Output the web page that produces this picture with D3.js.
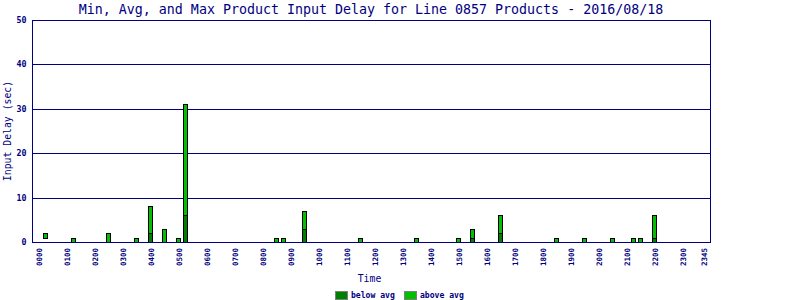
<!DOCTYPE html>
<html><head><meta charset="utf-8">
<script src="https://cdn.jsdelivr.net/npm/d3@7/dist/d3.min.js"></script>
<style>body{margin:0;background:#fff}svg{display:block}</style>
</head><body>
<svg id="c" width="800" height="300"></svg>
<script>
const title = "Min, Avg, and Max Product Input Delay for Line 0857 Products - 2016/08/18";
// 15-minute slots
const slots = [];
for (let h = 0; h < 24; h++) for (let m = 0; m < 60; m += 15)
  slots.push(String(h).padStart(2,"0") + String(m).padStart(2,"0"));
const tickLabels = ["0000","0100","0200","0300","0400","0500","0600","0700","0800","0900","1000","1100","1200","1300","1400","1500","1600","1700","1800","1900","2000","2100","2200","2300","2345"];
const yTicks = [0,10,20,30,40,50];
const barTimes = ["0015","0115","0230","0330","0400","0430","0500","0515","0830","0845","0930","1130","1330","1500","1530","1630","1830","1930","2030","2115","2130","2200"];
const minVals  = [1,0,0,0,0,0,0,0,0,0,0,0,0,0,0,0,0,0,0,0,0,0];
const avgVals  = [1,0,0,0,2,0,0,6,0,0,3,0,0,0,1,2,0,0,0,0,0,1];
const maxVals  = [2,1,2,1,8,3,1,31,1,1,7,1,1,1,3,6,1,1,1,1,1,6];
const seriesNames = ["below avg","above avg"];
const colors = ["#008000","#00c000"];

const navy = "#000080";
const mono = "'DejaVu Sans Mono', monospace";
const L = 32, R = 710, T = 20, B = 242;
const svg = d3.select("#c");
const x = d3.scalePoint().domain(slots).range([39, 704]);
const y = d3.scaleLinear().domain([0, 50]).range([B, T]);
const ry = v => Math.round(y(v));

svg.append("text").attr("x", (L+R)/2).attr("y", 14).attr("text-anchor","middle")
  .attr("font-family", mono).attr("font-size", 13.3).attr("fill", navy).text(title);

// gridlines
svg.append("g").selectAll("line").data(yTicks.filter(v => v > 0)).join("line")
  .attr("x1", L).attr("x2", R).attr("y1", d => ry(d)+0.5).attr("y2", d => ry(d)+0.5)
  .attr("stroke", navy).attr("stroke-width", 1);

// bars
const bars = barTimes.map((t,i) => ({t, min:minVals[i], avg:avgVals[i], max:maxVals[i]}));
const gb = svg.append("g");
bars.forEach(d => {
  const cx = Math.round(x(d.t));
  const x0 = cx - 2.5;
  if (d.avg > d.min) {
    gb.append("rect").attr("x", x0).attr("width", 4)
      .attr("y", ry(d.avg)+0.5).attr("height", ry(d.min) - ry(d.avg))
      .attr("fill", colors[0]).attr("stroke", "#000").attr("stroke-width", 1);
  }
  gb.append("rect").attr("x", x0).attr("width", 4)
    .attr("y", ry(d.max)+0.5).attr("height", ry(d.avg) - ry(d.max))
    .attr("fill", colors[1]).attr("stroke", "#000").attr("stroke-width", 1);
});

// frame
svg.append("line").attr("x1", L+0.5).attr("x2", L+0.5).attr("y1", T).attr("y2", B+1).attr("stroke", navy);
svg.append("line").attr("x1", R+0.5).attr("x2", R+0.5).attr("y1", T).attr("y2", B+1).attr("stroke", navy);
svg.append("line").attr("x1", L).attr("x2", R+1).attr("y1", B+0.5).attr("y2", B+0.5).attr("stroke", navy);
svg.append("line").attr("x1", L).attr("x2", R+1).attr("y1", T+0.5).attr("y2", T+0.5).attr("stroke", navy);

// y tick labels
svg.append("g").selectAll("text").data(yTicks).join("text")
  .attr("x", 26.5).attr("y", d => ry(d)).attr("dy", "0.35em").attr("text-anchor", "end")
  .attr("font-family", mono).attr("font-size", 8.3).attr("font-weight", "bold").attr("fill", navy)
  .text(d => d);

// x tick labels
svg.append("g").selectAll("text").data(tickLabels).join("text")
  .attr("transform", d => `translate(${Math.round(x(d))+0.5},248) rotate(-90)`)
  .attr("dy", "0.35em").attr("text-anchor", "end")
  .attr("font-family", mono).attr("font-size", 7.5).attr("font-weight", "bold").attr("fill", navy)
  .text(d => d);

// axis titles
svg.append("text").attr("transform", `translate(11,${(T+B)/2}) rotate(-90)`)
  .attr("text-anchor", "middle").attr("font-family", mono).attr("font-size", 9.8).attr("fill", navy)
  .text("Input Delay (sec)");
svg.append("text").attr("x", 369.5).attr("y", 281.5).attr("text-anchor", "middle")
  .attr("font-family", mono).attr("font-size", 9.8).attr("fill", navy).text("Time");

// legend
const legX = [335, 404];
seriesNames.forEach((n, i) => {
  svg.append("rect").attr("x", legX[i]+0.5).attr("y", 291.5).attr("width", 12).attr("height", 8)
    .attr("fill", colors[i]).attr("stroke", "#808080");
  svg.append("text").attr("x", legX[i]+16).attr("y", 298).attr("font-family", mono)
    .attr("font-size", 8.1).attr("font-weight", "bold").attr("fill", navy).text(n);
});
</script>
</body></html>
